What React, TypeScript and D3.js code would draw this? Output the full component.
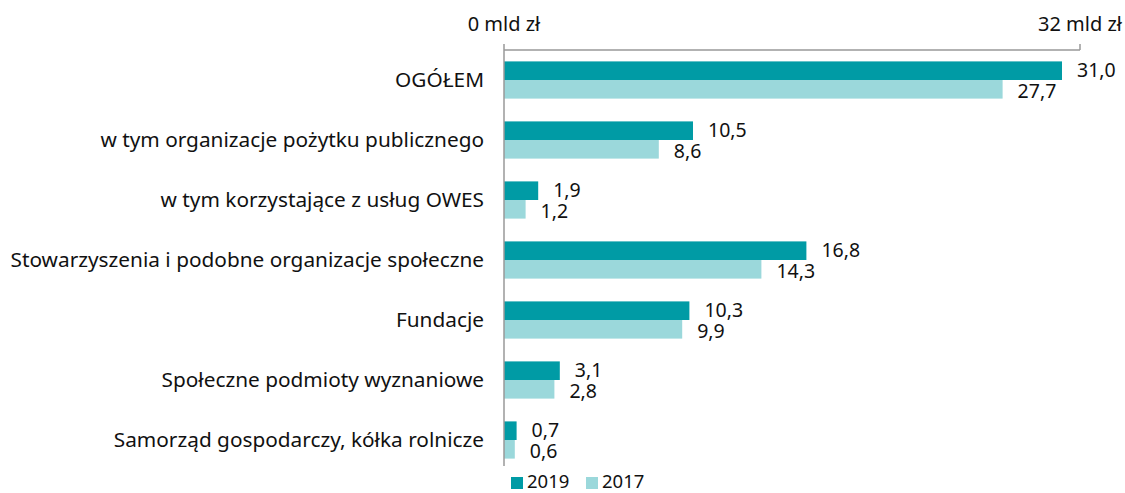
import React from "react";
import * as d3 from "d3";

const categories = [
  "OGÓŁEM",
  "w tym organizacje pożytku publicznego",
  "w tym korzystające z usług OWES",
  "Stowarzyszenia i podobne organizacje społeczne",
  "Fundacje",
  "Społeczne podmioty wyznaniowe",
  "Samorząd gospodarczy, kółka rolnicze",
];
const values2019 = [31.0, 10.5, 1.9, 16.8, 10.3, 3.1, 0.7];
const values2017 = [27.7, 8.6, 1.2, 14.3, 9.9, 2.8, 0.6];
const seriesNames = ["2019", "2017"];
const axisTicks = [0, 32];

const W = 1125;
const H = 493;
const C_DARK = "#009ba5";
const C_LIGHT = "#9bd8db";
const FONT = "'Noto Sans', sans-serif";
const FS = 20;

export default function App() {
  const x = d3.scaleLinear().domain([0, 32]).range([504, 1080]);
  const y = d3.scaleBand<string>().domain(categories).range([50, 470]).paddingInner(0.38).paddingOuter(0.19);
  const bw = y.bandwidth() / 2;
  const fmt = (v: number) => v.toFixed(1).replace(".", ",");
  return (
    <svg width={W} height={H} style={{ position: "absolute", left: 0, top: 0, background: "#fff" }} fontFamily={FONT}>
      {categories.map((c, i) => {
        const y0 = y(c)!;
        return (
          <g key={c}>
            <rect x={x(0)} y={y0} width={x(values2019[i]) - x(0)} height={bw} fill={C_DARK} />
            <rect x={x(0)} y={y0 + bw} width={x(values2017[i]) - x(0)} height={bw} fill={C_LIGHT} />
            <text x={x(values2019[i]) + 15} y={y0 + bw / 2 + 6.5} fontSize={19.5} fill="#111">{fmt(values2019[i])}</text>
            <text x={x(values2017[i]) + 15} y={y0 + bw + bw / 2 + 9} fontSize={19.5} fill="#111">{fmt(values2017[i])}</text>
            <text x={484} y={y0 + bw + 7} fontSize={20.8} fill="#111" textAnchor="end">{c}</text>
          </g>
        );
      })}
      <line x1={x(0)} x2={x(32)} y1={50} y2={50} stroke="#999" strokeWidth={1.5} />
      <line x1={x(0)} x2={x(0)} y1={44} y2={466} stroke="#999" strokeWidth={1.5} />
      <line x1={x(32)} x2={x(32)} y1={44} y2={50} stroke="#999" strokeWidth={1.5} />
      {axisTicks.map((t) => (
        <text key={t} x={t === 32 ? 1122 : x(t)} y={31} fontSize={FS} fill="#111" textAnchor={t === 32 ? "end" : "middle"}>{`${t} mld zł`}</text>
      ))}
      <g>
        <rect x={511} y={477} width={12} height={12} fill={C_DARK} />
        <text x={527} y={488} fontSize={18.5} fill="#111">{seriesNames[0]}</text>
        <rect x={586} y={477} width={12} height={12} fill={C_LIGHT} />
        <text x={602} y={488} fontSize={18.5} fill="#111">{seriesNames[1]}</text>
      </g>
    </svg>
  );
}
